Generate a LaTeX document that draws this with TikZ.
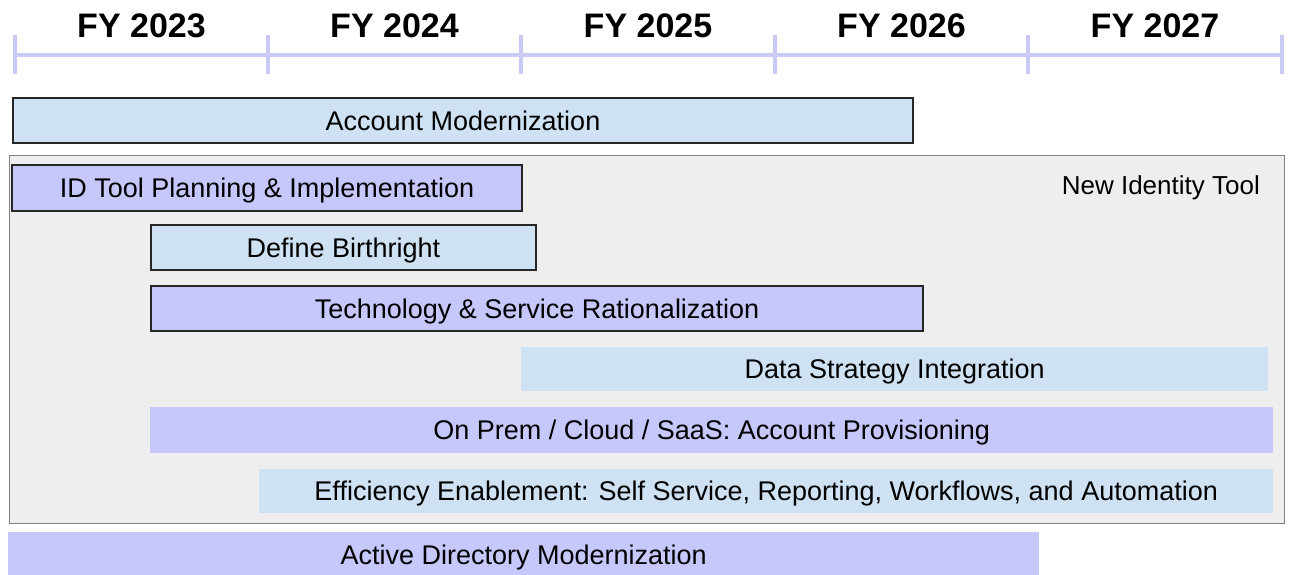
\documentclass[tikz,border=0pt]{standalone}
\usepackage{fontspec}
\setmainfont{Liberation Sans}
\usepackage{xcolor}
\definecolor{barBlue}{HTML}{CFE2F3}
\definecolor{barLilac}{HTML}{C6C8FB}
\definecolor{axisLilac}{HTML}{C9CBF6}
\definecolor{groupGray}{HTML}{EEEEEE}

\begin{document}
\begin{tikzpicture}[x=1pt, y=-1pt,
  bar/.style={anchor=north west, inner sep=0pt, text height=23pt, text depth=4pt, font=\fontsize{27}{31}\selectfont},
  edged/.style={draw=black!85, line width=2pt},
  year/.style={font=\fontsize{34}{40}\selectfont\bfseries}]
	\useasboundingbox (0,0) rectangle (1293,574);
	% timeline
	\draw[axisLilac, line width=4pt] (15,55) -- (1282,55);
	\foreach \x in {15,268,521,775,1028,1282}
		\draw[axisLilac, line width=4pt] (\x,35) -- (\x,74);
	\node[year] (fy23) at (141.5,26) {FY 2023};
	\node[year] (fy24) at (394.5,26) {FY 2024};
	\node[year] (fy25) at (648,26) {FY 2025};
	\node[year] (fy26) at (901.5,26) {FY 2026};
	\node[year] (fy27) at (1155,26) {FY 2027};
	% bars
	\node[bar, edged, fill=barBlue, minimum width=900pt, minimum height=45pt] (acct) at (12,97) {Account Modernization};
	\node[bar, draw=black!50, line width=1pt, fill=groupGray, minimum width=1275pt, minimum height=368pt] (idtool) at (9,155) {};
	\node[anchor=east, inner sep=0pt, font=\fontsize{26}{30}\selectfont] (idlabel) at (1260,188) {New Identity Tool};
	\node[bar, edged, fill=barLilac, minimum width=510pt, minimum height=46pt] (plan) at (11,164) {ID Tool Planning \& Implementation};
	\node[bar, edged, fill=barBlue, minimum width=385pt, minimum height=45pt] (birth) at (150,224) {Define Birthright};
	\node[bar, edged, fill=barLilac, minimum width=772pt, minimum height=45pt] (tech) at (150,285) {Technology \& Service Rationalization};
	\node[bar, fill=barBlue, minimum width=747pt, minimum height=44pt] (data) at (521,347) {Data Strategy Integration};
	\node[bar, fill=barLilac, minimum width=1123pt, minimum height=46pt] (prov) at (150,407) {On Prem / Cloud / SaaS: Account Provisioning};
	\node[bar, fill=barBlue, minimum width=1014pt, minimum height=44pt] (effic) at (259,469) {Efficiency Enablement: Self Service, Reporting, Workflows, and Automation};
	\node[bar, fill=barLilac, minimum width=1031pt, minimum height=46pt] (ad) at (8,532) {Active Directory Modernization};
\end{tikzpicture}
\end{document}
